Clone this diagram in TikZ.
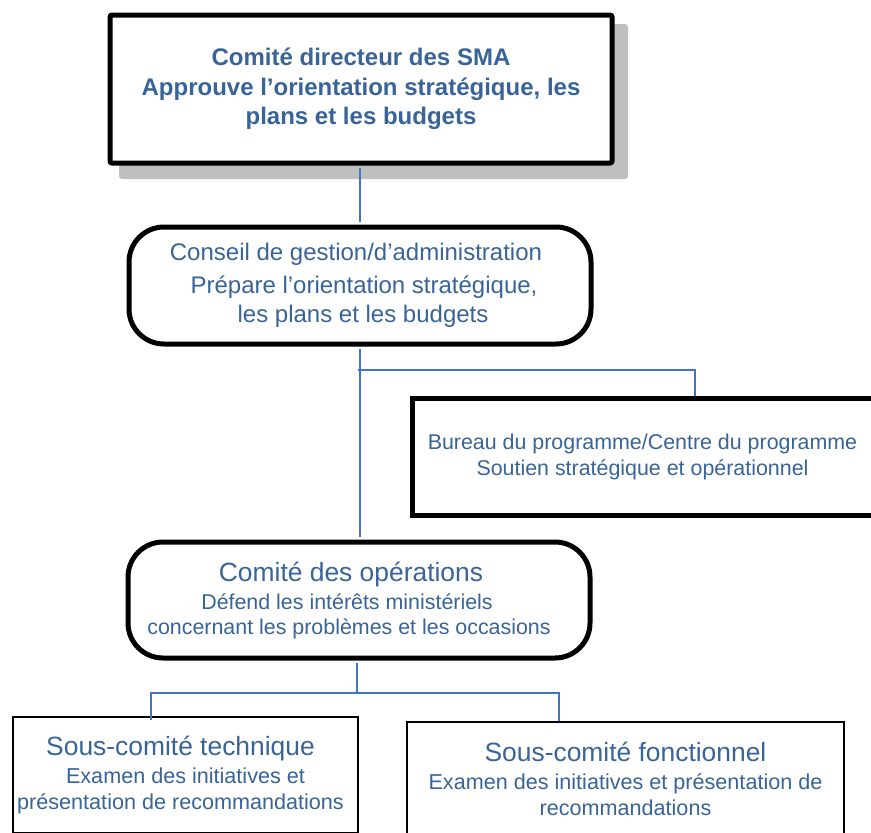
\documentclass[tikz,border=0pt]{standalone}
\usepackage{fontspec}
\setmainfont{Liberation Sans}
\definecolor{txtblue}{RGB}{56,100,152}
\definecolor{linkblue}{RGB}{68,114,196}
\definecolor{shadowgray}{RGB}{191,191,191}

\begin{document}
\begin{tikzpicture}[x=1pt,y=-1pt,
  box/.style={draw=black, fill=white, anchor=north west, inner sep=0pt,
              align=center, text=txtblue},
  heavy/.style={box, line width=5pt},
  light/.style={box, line width=2pt},
  conn/.style={draw=linkblue, line width=2pt},
]
\useasboundingbox (0,0) rectangle (871,833);
\clip (0,0) rectangle (871,833);

% drop shadow behind the steering committee
\fill[shadowgray, rounded corners=3pt] (119,24) rectangle (628,179);

% boxes
\node[heavy, rounded corners=2pt, minimum width=502pt, minimum height=148pt,
      font=\bfseries\fontsize{24}{29.5}\selectfont] (top) at (107.5,12.5)
  {Comité directeur des SMA\\Approuve l’orientation stratégique, les\\plans et les budgets};

\node[heavy, rounded corners=35pt, minimum width=462pt, minimum height=117pt,
      font=\fontsize{24}{29}\selectfont] (cons) at (126.5,224.5)
  {Conseil de gestion/d’administration\hspace*{8pt}\\[4pt]\hspace*{8pt}Prépare l’orientation stratégique,\\\hspace*{6pt}les plans et les budgets};

\node[heavy, minimum width=466pt, minimum height=117pt,
      font=\fontsize{21.4}{26}\selectfont] (bur) at (410,395.5)
  {Bureau du programme/Centre du programme\hspace*{6pt}\\Soutien stratégique et opérationnel\hspace*{6pt}};

\node[heavy, rounded corners=35pt, minimum width=462pt, minimum height=116pt,
      font=\fontsize{21.4}{25}\selectfont] (ops) at (125.5,539.5)
  {{\fontsize{26.4}{30}\selectfont Comité des opérations}\hspace*{16pt}\\[3pt]\mbox{Défend les intérêts ministériels\kern24pt}\\concernant les problèmes et les occasions\hspace*{20pt}};

\node[light, minimum width=345pt, minimum height=116pt,
      font=\fontsize{21.6}{26}\selectfont] (tech) at (12,716)
  {{\fontsize{26.4}{30}\selectfont Sous-comité technique}\hspace*{10pt}\\[2pt]Examen des initiatives et\hspace*{10pt}\\présentation de recommandations\hspace*{10pt}};

\node[light, minimum width=437pt, minimum height=114pt,
      font=\fontsize{21.6}{26}\selectfont] (fonc) at (406,721)
  {{\fontsize{26.4}{30}\selectfont Sous-comité fonctionnel}\\[2pt]Examen des initiatives et présentation de\\recommandations};

% connectors
\coordinate (j1) at (357.5,370);
\coordinate (j2) at (357,693);
\draw[conn] ([yshift=-2.5pt]top.south -| cons.north) -- ([yshift=2.5pt]cons.north);
\draw[conn] ([yshift=-2.5pt]cons.south) -- ([yshift=2.5pt]ops.north -| cons.south);
\draw[conn] (j1) -| ([xshift=49pt]bur.north);
\draw[conn] ([yshift=-2.5pt]ops.south -| j2) -- (j2);
\draw[conn] (j2) -| ([xshift=-34.5pt,yshift=-4pt]tech.north);
\draw[conn] (j2) -| ([xshift=-66.5pt]fonc.north);
\end{tikzpicture}
\end{document}
